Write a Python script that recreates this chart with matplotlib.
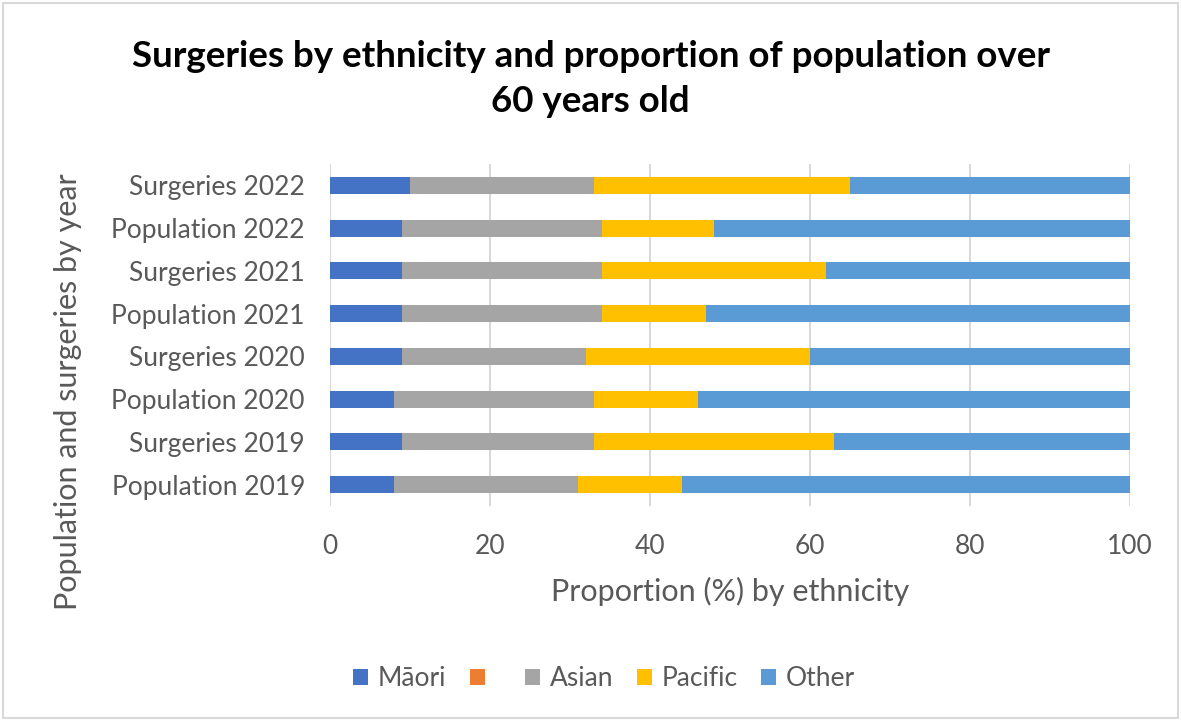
import numpy as np
import matplotlib.pyplot as plt
from matplotlib.patches import Rectangle

plt.rcParams['font.family'] = ['Lato', 'DejaVu Sans']

categories = ['Population 2019', 'Surgeries 2019', 'Population 2020', 'Surgeries 2020',
              'Population 2021', 'Surgeries 2021', 'Population 2022', 'Surgeries 2022']
maori = [8, 9, 8, 9, 9, 9, 9, 10]
blank = [0, 0, 0, 0, 0, 0, 0, 0]
asian = [23, 24, 25, 23, 25, 25, 25, 23]
pacific = [13, 30, 13, 28, 13, 28, 14, 32]
other = [56, 37, 54, 40, 53, 38, 52, 35]

series = [('Māori', maori, '#4472C4'), (' ', blank, '#ED7D31'), ('Asian', asian, '#A5A5A5'),
          ('Pacific', pacific, '#FFC000'), ('Other', other, '#5B9BD5')]

fig = plt.figure(figsize=(11.81, 7.21), dpi=100)
ax = fig.add_axes([330/1181, 1-506/721, 800/1181, 342/721])

y = np.arange(len(categories))
left = np.zeros(len(categories))
for name, vals, col in series:
    ax.barh(y, vals, left=left, height=0.4, color=col, label=name, zorder=3)
    left += np.array(vals)

ax.set_xlim(0, 100)
ax.set_ylim(-0.5, len(categories) - 0.5)
ax.set_xticks(range(0, 101, 20))
ax.set_yticks(y)
ax.set_yticklabels(categories)
ax.tick_params(length=0, labelsize=19, colors='#595959')
ax.tick_params(axis='y', pad=18)
ax.tick_params(axis='x', pad=20)
ax.grid(axis='x', color='#D9D9D9', linewidth=1.5, zorder=0)
for s in ax.spines.values():
    s.set_visible(False)

ax.set_xlabel('Proportion (%) by ethnicity', fontsize=22, color='#595959', labelpad=13)
fig.text(68/1181, 1-392/721, 'Population and surgeries by year', rotation=90,
         ha='center', va='center', fontsize=22, color='#595959')

fig.suptitle('Surgeries by ethnicity and proportion of population over\n60 years old',
             fontsize=26.5, fontweight='bold', y=0.945, linespacing=1.45)

ax.legend(loc='center', bbox_to_anchor=(604/1181, 1-679/721), bbox_transform=fig.transFigure,
          ncol=5, frameon=False, fontsize=19, labelcolor='#595959',
          handlelength=0.58, handleheight=0.58, handletextpad=0.35, columnspacing=0.9)

fig.patches.append(Rectangle((3/1181, 3/721), 1175/1181, 715/721, transform=fig.transFigure,
                             fill=False, edgecolor='#D9D9D9', linewidth=1.5))

fig.savefig('out.png', dpi=100)
plt.close('all')
